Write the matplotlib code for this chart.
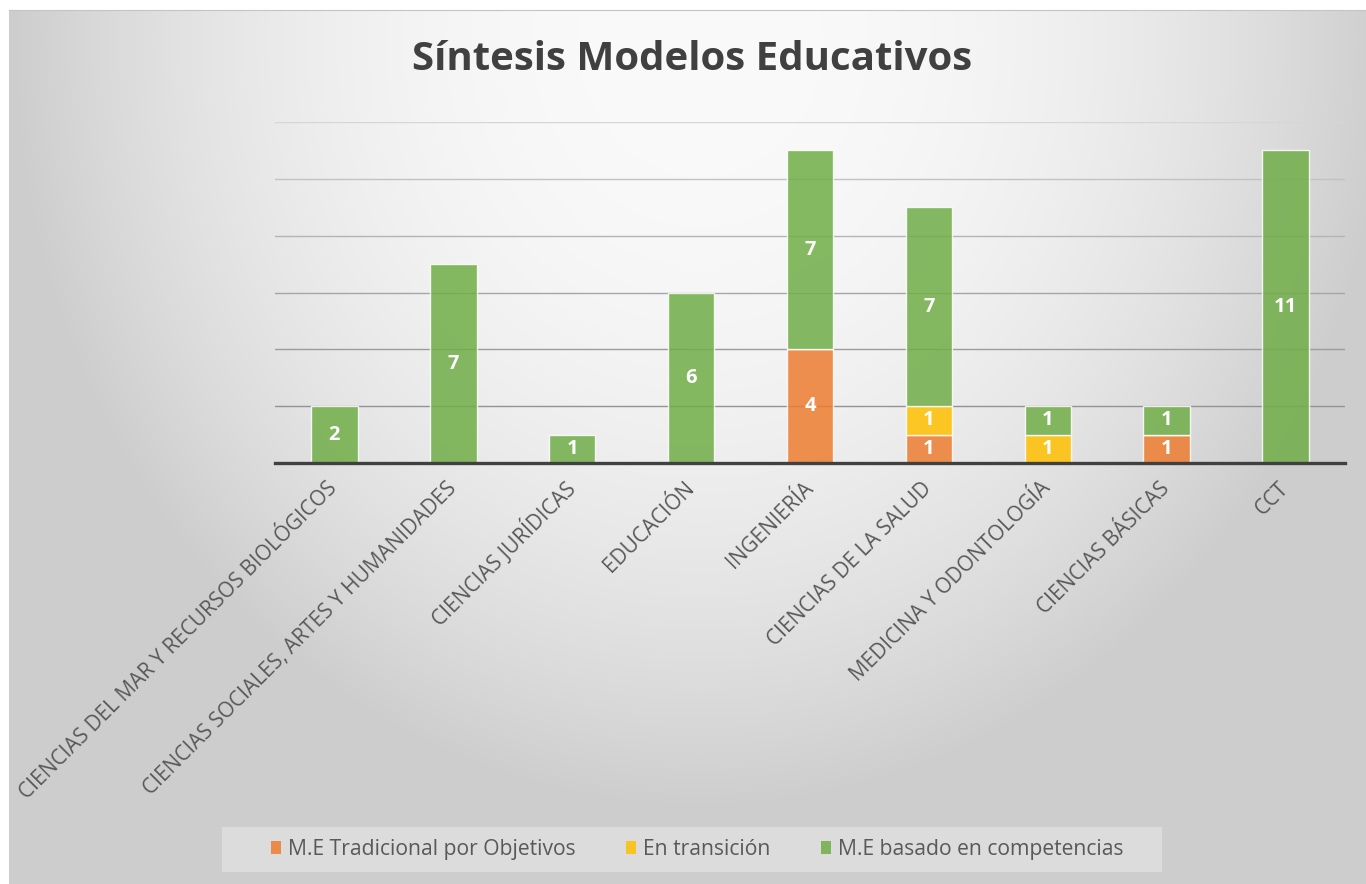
import numpy as np
import matplotlib
matplotlib.use("Agg")
import matplotlib.pyplot as plt
from matplotlib.patches import Patch, Rectangle

categories = ["CIENCIAS DEL MAR Y RECURSOS BIOLÓGICOS",
              "CIENCIAS SOCIALES, ARTES Y HUMANIDADES",
              "CIENCIAS JURÍDICAS", "EDUCACIÓN", "INGENIERÍA",
              "CIENCIAS DE LA SALUD", "MEDICINA Y ODONTOLOGÍA",
              "CIENCIAS BÁSICAS", "CCT"]
tradicional = [0, 0, 0, 0, 4, 1, 0, 1, 0]
transicion = [0, 0, 0, 0, 0, 1, 1, 0, 0]
competencias = [2, 7, 1, 6, 7, 7, 1, 1, 11]
series_names = ["M.E Tradicional por Objetivos", "En transición",
                "M.E basado en competencias"]
colors = ["#ED7D31", "#FFC000", "#70AD47"]
title = "Síntesis Modelos Educativos"

plt.rcParams['font.family'] = ['Open Sans', 'DejaVu Sans']

W, H = 1366, 884
fig = plt.figure(figsize=(W / 100, H / 100), dpi=100, facecolor="white")

# background radial gradient
bx0, by0 = 9, 10
bg = fig.add_axes([bx0 / W, 0, 1 - bx0 / W, 1 - by0 / H], zorder=-10)
xs = np.arange(bx0, W)
ys = np.arange(by0, H)
XX, YY = np.meshgrid(xs, ys)
d = np.sqrt(((XX - 700) / 690.0) ** 2 + ((YY - 40) / 770.0) ** 2)
t = np.clip(d, 0, 1) ** 2.2
val = (250 - 45 * t) / 255.0
img = np.dstack([val, val, val])
bg.imshow(img, aspect="auto", interpolation="bilinear")
bg.set_axis_off()
# thin top border
fig.add_artist(plt.Line2D([bx0 / W, 1], [1 - by0 / H, 1 - by0 / H],
                          color="#c4c4c4", linewidth=0.8, transform=fig.transFigure))

# main axes
left, right = 275, 1345
top, bottom = 122, 463
ax = fig.add_axes([left / W, 1 - bottom / H, (right - left) / W, (bottom - top) / H])
ax.set_facecolor("none")

x = np.arange(len(categories))
width = 0.39
b0 = np.zeros(len(categories))
for vals, c in zip([tradicional, transicion, competencias], colors):
    vals = np.array(vals, dtype=float)
    cont = ax.bar(x, vals, width, bottom=b0, color=c, alpha=0.85,
                  edgecolor=(1, 1, 1, 0.55), linewidth=1.0, zorder=3)
    labels = [f"{int(v)}" if v > 0 else "" for v in vals]
    ax.bar_label(cont, labels=labels, label_type="center", color="white",
                 fontweight="bold", fontsize=14.5, zorder=5)
    b0 = b0 + vals

ax.set_xlim(-0.5, len(categories) - 0.5)
ax.set_ylim(0, 12)
ax.set_yticks(np.arange(0, 13, 2))
ax.set_yticklabels([])
ax.tick_params(axis="y", length=0)
ax.tick_params(axis="x", length=0, pad=16)
ax.yaxis.grid(True, linewidth=1.0, zorder=0)
ax.set_axisbelow(True)
grid_colors = ["#909090", "#939393", "#9c9c9c", "#a6a6a6", "#b4b4b4", "#c2c2c2", "#d6d6d6"]
for g, gc in zip(ax.get_ygridlines(), grid_colors):
    g.set_color(gc)
ax.get_ygridlines()[0].set_visible(False)
for s in ["left", "right", "top"]:
    ax.spines[s].set_visible(False)
ax.spines["bottom"].set_color("#404040")
ax.spines["bottom"].set_linewidth(2.4)
ax.spines["bottom"].set_zorder(6)

ax.set_xticks(x)
ax.set_xticklabels(categories, rotation=45, ha="right", va="center",
                   rotation_mode="anchor", fontsize=15, color="#595959")

fig.text(692 / W, 1 - 60 / H, title, ha="center", va="center",
         fontsize=29, fontweight="bold", color="#404040")

# legend
fig.patches.append(Rectangle((222 / W, 1 - 872 / H), (1162 - 222) / W, 45 / H,
                             transform=fig.transFigure, facecolor="white",
                             alpha=0.3, edgecolor="none", zorder=1))
handles = [Patch(facecolor=c, edgecolor="none", alpha=0.85) for c in colors]
fig.legend(handles, series_names, loc="center", bbox_to_anchor=(697 / W, 1 - 849.5 / H),
           ncol=3, frameon=False, fontsize=15.2, handlelength=0.5, handleheight=0.5,
           handletextpad=0.3, columnspacing=2.4, labelcolor="#595959")

fig.savefig("out.png", dpi=100, facecolor="white")
